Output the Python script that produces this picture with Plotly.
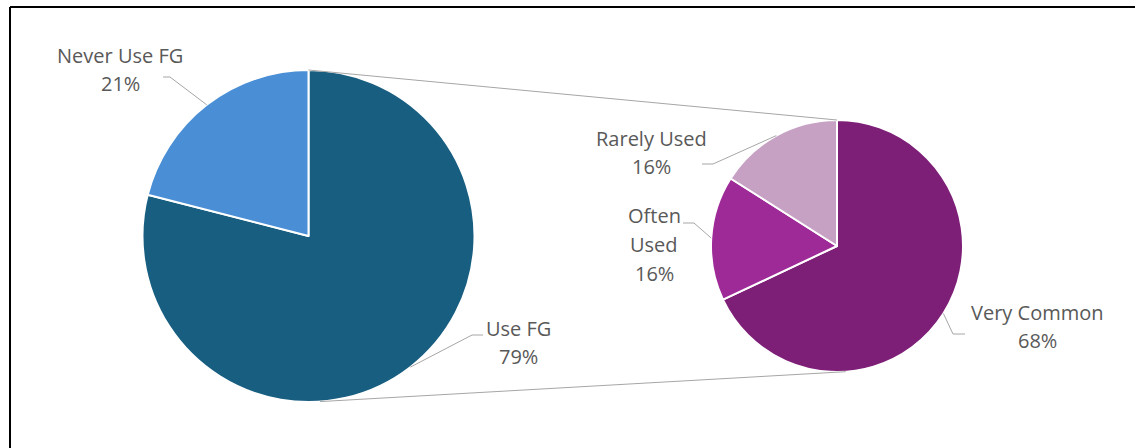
import math
import plotly.graph_objects as go

# Primary pie: overall use of FG
main_labels = ["Use FG", "Never Use FG"]
main_values = [79, 21]
main_colors = ["#175E80", "#4A8FD6"]

# Secondary pie: breakdown of the "Use FG" group
sub_labels = ["Very Common", "Often Used", "Rarely Used"]
sub_values = [68, 16, 16]
sub_colors = ["#7E1F77", "#9E2A98", "#C6A1C4"]

W, H = 1135, 448

# Pie geometry in pixels (center x, center y, radius)
MAIN = (308.5, 236.0, 166.0)
SUB = (837.0, 246.0, 126.0)

# Label text placement (center x, first line y, line step) and leader elbow, in pixels
main_label_pos = {
    "Use FG": dict(tx=518, ty=328, step=28, ex=483, ey=335, ex2=472),
    "Never Use FG": dict(tx=120, ty=55, step=28, ex=163, ey=77, ex2=170),
}
sub_label_pos = {
    "Very Common": dict(tx=1037, ty=312, step=28, ex=965, ey=334, ex2=953),
    "Often Used": dict(tx=654, ty=215, step=29, ex=683, ey=223, ex2=694),
    "Rarely Used": dict(tx=651, ty=138, step=28, ex=702, ey=164, ex2=713),
}
label_lines = {
    "Use FG": ["Use FG"],
    "Never Use FG": ["Never Use FG"],
    "Very Common": ["Very Common"],
    "Often Used": ["Often", "Used"],
    "Rarely Used": ["Rarely Used"],
}

LINE_GRAY = "#A6A6A6"
TEXT_GRAY = "#595959"
FONT = dict(family="Open Sans, Lato, sans-serif", size=20, color=TEXT_GRAY)


def domain_for(geom):
    cx, cy, r = geom
    return dict(x=[(cx - r) / W, (cx + r) / W],
                y=[1 - (cy + r) / H, 1 - (cy - r) / H])


def edge_point(geom, angle_deg):
    # angle measured clockwise from 12 o'clock
    cx, cy, r = geom
    a = math.radians(angle_deg)
    return cx + r * math.sin(a), cy - r * math.cos(a)


def mid_angles(values):
    total = sum(values)
    out, acc = [], 0.0
    for v in values:
        out.append((acc + v / 2) / total * 360)
        acc += v
    return out


fig = go.Figure()

fig.add_trace(go.Pie(
    labels=main_labels, values=main_values, sort=False, direction="clockwise",
    rotation=0, textinfo="none", hoverinfo="label+percent",
    marker=dict(colors=main_colors, line=dict(color="white", width=2)),
    domain=domain_for(MAIN), showlegend=False,
))
fig.add_trace(go.Pie(
    labels=sub_labels, values=sub_values, sort=False, direction="clockwise",
    rotation=0, textinfo="none", hoverinfo="label+percent",
    marker=dict(colors=sub_colors, line=dict(color="white", width=2)),
    domain=domain_for(SUB), showlegend=False,
))

shapes = []
annotations = []


def add_labels(geom, labels, values, positions):
    total = sum(values)
    for lab, val, ang in zip(labels, values, mid_angles(values)):
        p = positions[lab]
        px, py = edge_point(geom, ang)
        shapes.append(dict(type="path", xref="x", yref="y",
                           path=f"M {p['ex']},{p['ey']} L {p['ex2']},{p['ey']} L {px},{py}",
                           line=dict(color=LINE_GRAY, width=1)))
        pct = round(val / total * 100)
        lines = label_lines[lab] + [f"{pct}%"]
        for i, line in enumerate(lines):
            annotations.append(dict(x=p["tx"], y=p["ty"] + i * p["step"], xref="x", yref="y",
                                    text=line, showarrow=False, font=FONT,
                                    xanchor="center", yanchor="middle"))


add_labels(MAIN, main_labels, main_values, main_label_pos)
add_labels(SUB, sub_labels, sub_values, sub_label_pos)

# Connector lines linking the two pies (top and bottom)
for ang in (0, 176):
    x0, y0 = edge_point(MAIN, ang)
    x1, y1 = edge_point(SUB, ang)
    shapes.append(dict(type="line", xref="x", yref="y", x0=x0, y0=y0, x1=x1, y1=y1,
                       line=dict(color=LINE_GRAY, width=1)))

# Chart frame (top and left edges)
shapes.append(dict(type="line", xref="x", yref="y", x0=10, y0=7, x1=W + 5, y1=7,
                   line=dict(color="black", width=2)))
shapes.append(dict(type="line", xref="x", yref="y", x0=10, y0=7, x1=10, y1=H + 5,
                   line=dict(color="black", width=2)))

fig.update_layout(
    width=W, height=H, margin=dict(l=0, r=0, t=0, b=0),
    paper_bgcolor="white", plot_bgcolor="rgba(0,0,0,0)",
    xaxis=dict(range=[0, W], visible=False, fixedrange=True),
    yaxis=dict(range=[H, 0], visible=False, fixedrange=True),
    shapes=shapes, annotations=annotations, showlegend=False,
)

fig.write_html("out.html")
